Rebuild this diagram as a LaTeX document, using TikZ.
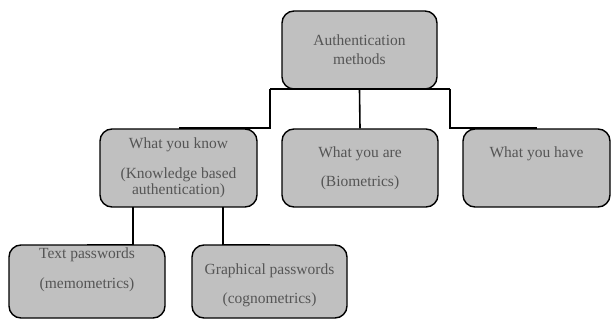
\documentclass[tikz,border=0pt]{standalone}
\usepackage{fontspec}
\setmainfont{Liberation Serif}
\usepackage{tikz}
\usetikzlibrary{positioning, calc}
\definecolor{box color}{HTML}{C0C0C0}
\definecolor{label color}{HTML}{555555}
\tikzset{link/.style={line width=1.6pt}}
\tikzset{method/.style={draw, line width=1.4pt, fill=box color, rounded corners=12pt, inner sep=0pt, align=center, text=label color, font=\fontsize{15.5}{16}\selectfont}}

\begin{document}
\begin{tikzpicture}[x=1pt, y=-1pt]
                \useasboundingbox (0, 0) rectangle (612, 320);

                \node[method, minimum width=155pt, minimum height=78pt] (root) at (359.5, 50) {Authentication\\[3pt]methods};

                \node[method, minimum width=157pt, minimum height=78pt] (know) at (178.5, 168) {What you know\\[14pt](Knowledge based\\authentication)};
                \node[method, minimum width=156pt, minimum height=78pt] (are) at (360, 168) {What you are\\[13pt](Biometrics)};
                \node[method, minimum width=147pt, minimum height=78pt] (have) at (536.5, 168) {What you have\\[13pt]\phantom{(Biometrics)}};

                \node[method, minimum width=156pt, minimum height=73pt] (textpw) at (87, 281.5) {Text passwords\\[14pt](memometrics)\\[6pt]\strut};
                \node[method, minimum width=155pt, minimum height=73pt] (graphpw) at (269.5, 281.5) {\rule{0pt}{19pt}Graphical passwords\\[13pt](cognometrics)};

                \coordinate (bar left) at (270, 89);
                \coordinate (bar right) at (450, 89);
                \coordinate (know left) at (133, 207);
                \coordinate (know right) at (223, 207);

                \draw[link] (bar left) -- (bar right);
                \draw[link] (bar left) |- (know.north);
                \draw[link] (root.south) -- (are.north);
                \draw[link] (bar right) |- (have.north);

                \draw[link] (know left) |- (textpw.north);
                \draw[link] (know right) |- (graphpw.north);
            \end{tikzpicture}
\end{document}
